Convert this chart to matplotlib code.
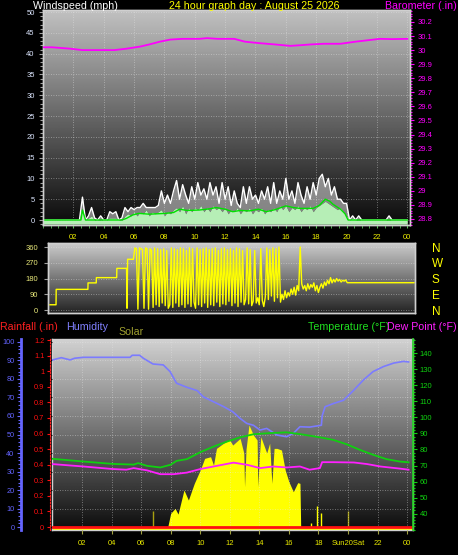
import numpy as np
import matplotlib
matplotlib.use('Agg')
import matplotlib.pyplot as plt
import matplotlib.transforms as mtransforms
from matplotlib.ticker import MultipleLocator, FuncFormatter

plt.rcParams['font.family'] = ['Liberation Sans', 'DejaVu Sans']

# -------------------- data --------------------
# wind (mph), sampled every 0.2 h from 00:00 to 24:00
gust = [0] * 13 + [
    5.5, 0, 1, 3, 0.5, 0, 1, 0, 0, 2,
    1.5, 2, 0, 0.5, 3, 2, 3, 2.5, 3, 3,
    4, 3, 3, 3, 3, 3.5, 7, 4, 6, 4,
    7, 9.5, 5, 8.5, 6, 4, 8, 5, 9, 6,
    7.5, 5, 9, 6, 8, 4, 9, 5, 8, 3.5,
    7, 4, 3, 8, 4, 8, 5, 6, 4, 7,
    5, 8, 4, 9, 4, 7, 5, 10, 5, 7,
    4, 9, 6, 4, 8, 5, 9, 6, 10, 11,
    8, 10, 6, 8, 5, 5, 4, 4, 0, 1,
    0, 1] + [0] * 9 + [1] + [0] * 6
avg_wind = [0] * 13 + [
    2.5, 0, 0.5, 1, 0, 0, 0, 0, 0, 0.5,
    0.5, 0.5, 0, 0, 1, 1.5, 1, 2, 1, 2,
    1.5, 2.5, 1, 2, 1.5, 2, 2.5, 1, 2, 1.5,
    2.5, 3, 2, 3.5, 1.5, 3, 2, 3, 2.5, 3.5,
    2, 3, 2, 3.5, 2.5, 3, 2, 3, 1.5, 2.5,
    2, 3, 1.5, 2.5, 2, 3, 1.5, 2.5, 2, 3,
    1.5, 2.5, 2, 3, 2, 3.5, 2.5, 3.5, 2, 3,
    2.5, 3.5, 2, 3, 2.5, 3.5, 2, 3, 3.5, 4,
    4.5, 4, 3.5, 3, 2.5, 3, 2, 1, 0, 0.5,
    0, 0] + [0] * 16
wind_hours = np.arange(len(gust)) * 0.2

avg_line_hours = [0, 2.5, 2.6, 2.8, 5.2, 5.5, 5.9, 6.3, 7.0, 8.1, 8.6, 9.0, 9.5, 10.3, 11.0,
                  11.4, 12.0, 12.5, 13.0, 13.6, 14.2, 14.7, 15.3, 16.0, 16.5, 16.9, 17.8, 18.2,
                  18.6, 18.9, 19.1, 19.6, 19.9, 20.1, 24]
avg_line = [0, 0, 2.4, 0, 0, 0.4, 1.2, 1.6, 1.4, 1.6, 1.8, 2.6, 2.3, 2.4, 2.7,
            3.0, 2.6, 2.0, 2.3, 2.2, 2.6, 2.0, 2.5, 3.4, 3.0, 2.8, 2.8, 3.5,
            5.0, 4.5, 3.8, 2.6, 1.5, 0, 0]

baro_hours = [0, 0.6, 1.2, 1.8, 2.6, 3.2, 3.8, 4.7, 5.5, 6.4, 7.0, 7.7, 8.4, 9.2, 10.3, 10.8,
              11.5, 12.6, 13.3, 14.2, 15.3, 16.3, 17.0, 17.6, 18.5, 19.6, 20.6, 21.4, 22.2, 23.0, 24.0]
baro = [30.02, 30.02, 30.015, 30.01, 30.0, 30.0, 30.0, 30.0, 30.01, 30.025, 30.04, 30.06,
        30.075, 30.08, 30.08, 30.085, 30.08, 30.08, 30.06, 30.05, 30.04, 30.03, 30.035,
        30.04, 30.045, 30.045, 30.06, 30.07, 30.08, 30.078, 30.08]
baro_ticks = [28.8, 28.9, 29.0, 29.1, 29.2, 29.3, 29.4, 29.5, 29.6, 29.7, 29.8, 29.9, 30.0, 30.1, 30.2]

# wind direction (deg)
dir_step_hours = [0.0, 0.4, 0.41, 2.5, 2.51, 3.05, 3.06, 4.4, 4.41, 5.05, 5.08, 5.12, 5.5, 5.6]
dir_step_deg = [30, 30, 118, 118, 155, 155, 185, 185, 238, 238, 10, 290, 290, 355]
dir_swing_deg = [  # every 0.1 h from 05:42 to 19:36
    350, 5, 355, 350, 345, 10, 355, 350, 5, 350,
    340, 15, 355, 30, 350, 20, 345, 40, 350, 25,
    340, 10, 30, 355, 15, 350, 40, 345, 20, 355,
    30, 350, 15, 340, 35, 355, 20, 350, 45, 10,
    355, 30, 345, 20, 350, 40, 355, 15, 345, 30,
    350, 25, 355, 45, 340, 20, 350, 35, 355, 30,
    345, 50, 350, 25, 340, 40, 355, 20, 350, 45,
    340, 30, 60, 355, 35, 345, 25, 50, 340, 40,
    70, 30, 350, 55, 20, 75, 355, 60, 345, 80,
    355, 50, 350, 70, 360, 45, 90, 60, 110, 70,
    100, 80, 120, 90, 130, 85, 140, 110, 360, 150,
    120, 140, 110, 150, 120, 145, 130, 155, 110, 140,
    100, 130, 150, 125, 160, 140, 170, 150, 185, 155,
    175, 160, 180, 165, 175, 160, 170, 165, 172, 156]
dir_swing_hours = 5.7 + np.arange(len(dir_swing_deg)) * 0.1
dir_tail_hours = [24.0]
dir_tail_deg = [156]
compass_pos = [0, 90, 180, 270, 360]
compass_lbl = ['N', 'E', 'S', 'W', 'N']

# humidity (%)
hum_hours = [0, 0.6, 1.2, 1.5, 2.1, 5.25, 5.4, 5.9, 6.15, 6.8, 7.5, 7.96, 8.4, 9.1, 9.8, 10.2,
             10.9, 11.6, 12.2, 12.7, 13.15, 13.6, 14.05, 14.5, 15.2, 15.85, 16.3, 16.75, 17.4,
             18.2, 18.25, 18.45, 19.0, 19.7, 20.4, 21.05, 21.7, 22.4, 23.1, 23.75, 24.1]
hum = [90.3, 91.5, 90.3, 91.2, 91.7, 91.7, 92.8, 92.8, 91.2, 88.1, 87.6, 84, 77.7, 75.5, 73.7,
       70.4, 67.7, 65, 62.3, 58.7, 56, 55, 52.4, 53.3, 49.7, 48.8, 50.6, 54.2, 54, 55, 60, 65,
       66.7, 68.5, 74, 79.5, 84, 86.7, 88.6, 89.5, 89.2]

# temperature / dew point (F)
temp_hours = [0.0, 2.1, 4.1, 5.5, 5.8, 6.4, 7.3, 8.0, 8.4, 9.1, 10.0, 10.9, 11.8, 12.7, 13.6,
              14.5, 15.85, 16.75, 18.1, 19.0, 19.9, 20.8, 21.7, 22.6, 23.5, 24.1]
temp = [74.2, 72.5, 71, 70.6, 71.5, 69.8, 68.8, 70.5, 72.9, 74, 78.3, 81.8, 84.9, 87.6, 89.5,
        90.1, 90.7, 89.6, 87.6, 86, 83.3, 79.8, 76.7, 74, 72.5, 72]
dew_hours = [0.0, 2.1, 4.1, 5.0, 5.5, 6.4, 7.3, 8.2, 9.1, 10.0, 10.9, 11.8, 12.25, 13.15, 14.05,
             14.95, 15.85, 16.75, 17.4, 18.1, 18.25, 19.0, 20.4, 21.3, 22.2, 23.5, 24.1]
dew = [70.9, 69.4, 67.8, 67.4, 68.4, 67, 64.6, 64.6, 65.6, 67.8, 69.4, 71, 71.8, 70.5, 68.4,
       69.4, 68.8, 69.4, 67.4, 68.4, 72.1, 72.1, 71.9, 70.9, 69.4, 68.1, 67.4]

# solar (W/m2)
solar_hours = [7.8, 8.0, 8.3, 8.5, 8.9, 9.2, 9.6, 10.0, 10.3, 10.7, 10.9, 11.1, 11.6, 12.0, 12.2,
               12.7, 12.95, 13.0, 13.1, 13.3, 13.6, 13.85, 13.9, 14.0, 14.1, 14.5, 14.7, 14.85,
               14.9, 15.0, 15.2, 15.5, 15.75, 16.0, 16.3, 16.6, 16.75, 16.8, 16.85]
solar = [0, 74, 101, 70, 200, 146, 236, 308, 371, 380, 335, 425, 454, 470, 443,
         479, 400, 218, 420, 551, 497, 470, 218, 380, 488, 400, 453, 236,
         300, 425, 425, 416, 308, 245, 191, 240, 236, 0, 0]
solar_spike_hours = [17.5, 17.9, 18.2]
solar_spikes = [20, 113, 74]
uv_hours = [6.8, 20.0]
uv_spikes = [86, 86]

# rainfall (in)
rain_hours = [-0.1, 24.5]
rain = [0, 0]

hour_ticks = [2, 4, 6, 8, 10, 12, 14, 16, 18, 20, 22, 24]
hour_lbls = ['02', '04', '06', '08', '10', '12', '14', '16', '18', '20', '22', '00']
hour_lbls_bottom = ['02', '04', '06', '08', '10', '12', '14', '16', '18', 'Sun20Sat', '22', '00']

# -------------------- figure --------------------
W, H = 458, 555
fig = plt.figure(figsize=(W / 100, H / 100), dpi=100, facecolor='black')


def box(l, t, r, b):
    return [l / W, 1 - b / H, (r - l) / W, (b - t) / H]


def backdrop(ax, top, bottom):
    grad = np.linspace(top, bottom, 256).reshape(-1, 1)
    ax.imshow(grad, extent=[0, 1, 0, 1], transform=ax.transAxes, aspect='auto',
              cmap='gray', vmin=0, vmax=1, zorder=0, interpolation='bilinear')


def dotted_grid(ax, axis='both'):
    ax.grid(True, axis=axis, color='#e8e8e8', linestyle=(0, (1, 2)), lw=0.6, alpha=0.55)
    ax.set_axisbelow(False)


def frame(ax, color='#d0d0d0'):
    for s in ax.spines.values():
        s.set_color(color)
        s.set_linewidth(1)


pct = FuncFormatter(lambda v, p: '%g' % round(v, 2))

# ---- top panel: wind speed + barometer ----
ax1 = fig.add_axes(box(43, 10, 410, 225))
ax1.set_facecolor('black')
backdrop(ax1, 0.76, 0.04)
ax1.fill_between(wind_hours, avg_wind, gust, color='#e0e0e0', alpha=0.55, lw=0, zorder=2)
ax1.plot(wind_hours, gust, color='white', lw=1, zorder=3)
ax1.fill_between(wind_hours, -1.0, avg_wind, color='#b6eeb6', lw=0, zorder=4)
ax1.plot(avg_line_hours, avg_line, color='#00e000', lw=1, zorder=5)
ax1.set_xlim(0, 24.18)
ax1.set_ylim(-1.2, 50.5)
ax1.set_yticks(range(0, 51, 5))
ax1.yaxis.set_minor_locator(MultipleLocator(1))
ax1.set_xticks(hour_ticks)
ax1.set_xticklabels(hour_lbls)
ax1.xaxis.set_minor_locator(MultipleLocator(0.5))
ax1.tick_params(axis='y', which='both', colors='#a0a0a0', labelcolor='#dce6ff',
                labelsize=5.5, length=3, pad=3, width=0.8)
ax1.tick_params(axis='y', which='minor', length=2)
ax1.tick_params(axis='x', which='both', colors='#60c060', labelcolor='#f0f000',
                labelsize=5.5, length=2, pad=4.5)
dotted_grid(ax1)
frame(ax1)

ax1b = ax1.twinx()
ax1b.plot(baro_hours, baro, color='#ff00ff', lw=1.3, zorder=5)
ax1b.set_ylim(28.757, 30.285)
ax1b.set_yticks(baro_ticks)
ax1b.yaxis.set_major_formatter(pct)
ax1b.yaxis.set_minor_locator(MultipleLocator(0.02))
ax1b.tick_params(axis='y', which='both', colors='#ff00ff', labelsize=5.5, length=3, pad=2.5, width=0.8)
ax1b.tick_params(axis='y', which='minor', length=1.5)
frame(ax1b)

fig.text(33 / W, 1 - 6 / H, 'Windspeed (mph)', color='white', fontsize=7.7, va='center', ha='left')
fig.text(254 / W, 1 - 6 / H, '24 hour graph day : August 25 2026', color='#ffff00',
         fontsize=7.7, va='center', ha='center')
fig.text(457 / W, 1 - 6 / H, 'Barometer (.in)', color='#ff00ff', fontsize=7.7, va='center', ha='right')

# ---- middle panel: wind direction ----
ax2 = fig.add_axes(box(48, 243, 415, 313))
ax2.set_facecolor('black')
backdrop(ax2, 0.80, 0.14)
ax2.plot(dir_step_hours + list(dir_swing_hours) + dir_tail_hours,
         dir_step_deg + dir_swing_deg + dir_tail_deg, color='#ffff00', lw=1, zorder=3)
ax2.set_xlim(-0.13, 24.07)
ax2.set_ylim(-17.1, 382.9)
ax2.set_yticks(compass_pos)
ax2.set_xticks([])
ax2.tick_params(axis='y', colors='#a0a0a0', labelcolor='#e8e87a', labelsize=5.5, length=3, pad=4)
dotted_grid(ax2, 'y')
frame(ax2)

ax2r = ax2.twinx()
ax2r.set_ylim(-17.1, 382.9)
ax2r.set_yticks(compass_pos)
ax2r.set_yticklabels(compass_lbl)
ax2r.tick_params(axis='y', colors='#ffff00', labelsize=8.5, length=0, pad=12)
frame(ax2r)

# ---- bottom panel: rain, humidity, solar, temperature, dew point ----
ax3 = fig.add_axes(box(52, 339, 413, 530))
ax3.set_facecolor('black')
backdrop(ax3, 0.82, 0.05)
ax3.fill_between(solar_hours, 0, solar, color='#ffff00', lw=0, zorder=2)
ax3.vlines(solar_spike_hours, 0, solar_spikes, color='#ffff00', lw=1, zorder=2)
ax3.vlines(uv_hours, 0, uv_spikes, color='#a8a010', lw=1, zorder=2)
below = mtransforms.offset_copy(ax3.transData, fig=fig, y=-2.3, units='dots')
ax3.plot(rain_hours, [0, 0], color='#ffff00', lw=2.2, transform=below, zorder=2)
ax3.set_xlim(-0.03, 24.4)
ax3.set_ylim(-16, 1016)
ax3.set_yticks(range(0, 1001, 100))
ax3.set_xticks(hour_ticks)
ax3.set_xticklabels(hour_lbls_bottom)
ax3.tick_params(axis='y', left=False, labelleft=False)
ax3.tick_params(axis='x', colors='#a0a040', labelcolor='#e8e800', labelsize=5.5, length=3, pad=4.5)
dotted_grid(ax3)
frame(ax3)

ax3h = ax3.twinx()
ax3h.plot(hum_hours, hum, color='#7b7bff', lw=1.2, zorder=3)
ax3h.set_ylim(-1.6, 101.6)
ax3h.yaxis.set_ticks_position('left')
ax3h.yaxis.set_label_position('left')
ax3h.spines['left'].set_position(('outward', 22))
for s in ['right', 'top', 'bottom']:
    ax3h.spines[s].set_visible(False)
ax3h.spines['left'].set_color('#6464ff')
ax3h.spines['left'].set_linewidth(2)
ax3h.set_yticks(range(0, 101, 10))
ax3h.yaxis.set_minor_locator(MultipleLocator(2))
ax3h.tick_params(axis='y', which='both', colors='#6464ff', labelsize=5.3, length=3, pad=2, width=0.8)
ax3h.tick_params(axis='y', which='minor', length=2)

ax3r = ax3.twinx()
ax3r.plot(rain_hours, rain, color='#ff1010', lw=2, zorder=4)
ax3r.set_ylim(-0.019, 1.207)
ax3r.yaxis.set_ticks_position('left')
ax3r.yaxis.set_label_position('left')
ax3r.spines['left'].set_position(('outward', 1.5))
for s in ['right', 'top', 'bottom']:
    ax3r.spines[s].set_visible(False)
ax3r.spines['left'].set_color('#ff2020')
ax3r.spines['left'].set_linestyle((0, (1.5, 1.5)))
ax3r.set_yticks([0, 0.1, 0.2, 0.3, 0.4, 0.5, 0.6, 0.7, 0.8, 0.9, 1.0, 1.1, 1.2])
ax3r.yaxis.set_major_formatter(pct)
ax3r.tick_params(axis='y', colors='#ff1010', labelsize=5.3, length=2, pad=2, width=0.8)

ax3t = ax3.twinx()
ax3t.plot(temp_hours, temp, color='#10d010', lw=1.3, zorder=4)
ax3t.plot(dew_hours, dew, color='#ff20ff', lw=1.3, zorder=4)
ax3t.set_ylim(29.8, 148.9)
ax3t.set_yticks(range(40, 141, 10))
ax3t.yaxis.set_minor_locator(MultipleLocator(2))
for s in ['left', 'top', 'bottom']:
    ax3t.spines[s].set_visible(False)
ax3t.spines['right'].set_color('#20d020')
ax3t.spines['right'].set_linewidth(1.2)
ax3t.tick_params(axis='y', which='both', colors='#10d010', labelsize=5.5, length=3, pad=2, width=0.8)
ax3t.tick_params(axis='y', which='minor', length=1.5)

fig.text(0 / W, 1 - 327 / H, 'Rainfall (.in)', color='#ff2020', fontsize=7.7, va='center', ha='left')
fig.text(66 / W, 1 - 327 / H, 'Humidity', color='#8080ff', fontsize=7.7, va='center', ha='left')
fig.text(118 / W, 1 - 332 / H, 'Solar', color='#a0a030', fontsize=7.7, va='center', ha='left')
fig.text(308 / W, 1 - 327 / H, 'Temperature (\u00b0F)', color='#20e020', fontsize=7.7, va='center', ha='left')
fig.text(457 / W, 1 - 327 / H, 'Dew Point (\u00b0F)', color='#ff20ff', fontsize=7.7, va='center', ha='right')

fig.savefig('out.png', dpi=100, facecolor='black')
